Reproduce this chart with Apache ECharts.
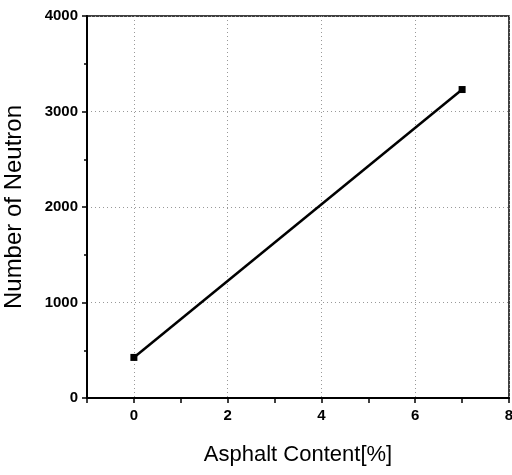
<!DOCTYPE html>
<html><head><meta charset="utf-8">
<script src="https://cdn.jsdelivr.net/npm/echarts@6/dist/echarts.min.js"></script>
<style>html,body{margin:0;padding:0;background:#fff}#c{width:512px;height:475px}</style>
</head><body><div id="c"></div>
<script>
const asphaltContent = [0, 7];
const neutronCount = [425, 3230];
const xTickLabels = [0, 2, 4, 6, 8];
const yTickLabels = [0, 1000, 2000, 3000, 4000];

const chart = echarts.init(document.getElementById('c'), null, {renderer: 'canvas'});
const tickFont = {fontFamily: 'Liberation Sans', fontWeight: 'bold', fontSize: 15, color: '#000'};
chart.setOption({
  animation: false,
  backgroundColor: '#fff',
  grid: {left: 87, right: 3, top: 16, bottom: 77, outerBoundsMode: 'none', containLabel: false, show: true, borderColor: '#000', borderWidth: 1.5, backgroundColor: 'transparent'},
  xAxis: {
    type: 'value', min: -1, max: 8, interval: 1,
    name: 'Asphalt Content[%]', nameLocation: 'middle', nameGap: 46,
    nameTextStyle: {fontFamily: 'Liberation Sans', fontSize: 22, color: '#000'},
    axisLine: {show: true, onZero: false, lineStyle: {color: '#000', width: 2}},
    axisTick: {show: true, length: 5, lineStyle: {color: '#000', width: 1.5}},
    axisLabel: Object.assign({margin: 10, formatter: v => xTickLabels.includes(v) ? String(v) : ''}, tickFont),
    splitLine: {show: true, lineStyle: {color: ['rgba(0,0,0,0)', '#999'], type: [1, 3], width: 1}}
  },
  yAxis: {
    type: 'value', min: 0, max: 4000, interval: 1000,
    name: 'Number of Neutron', nameLocation: 'middle', nameGap: 61,
    nameTextStyle: {fontFamily: 'Liberation Sans', fontSize: 24, color: '#000'},
    axisLine: {show: true, onZero: false, lineStyle: {color: '#000', width: 2}},
    axisTick: {show: true, length: 5, lineStyle: {color: '#000', width: 1.5}},
    minorTick: {show: true, splitNumber: 2, length: 3, lineStyle: {color: '#000', width: 1.5}},
    axisLabel: Object.assign({margin: 9, formatter: v => yTickLabels.includes(v) ? String(v) : ''}, tickFont),
    splitLine: {show: true, lineStyle: {color: '#999', type: [1, 3], width: 1}}
  },
  series: [{
    type: 'line',
    data: asphaltContent.map((x, i) => [x, neutronCount[i]]),
    symbol: 'rect', symbolSize: 7,
    lineStyle: {color: '#000', width: 2.5},
    itemStyle: {color: '#000'}
  }]
});
</script></body></html>
